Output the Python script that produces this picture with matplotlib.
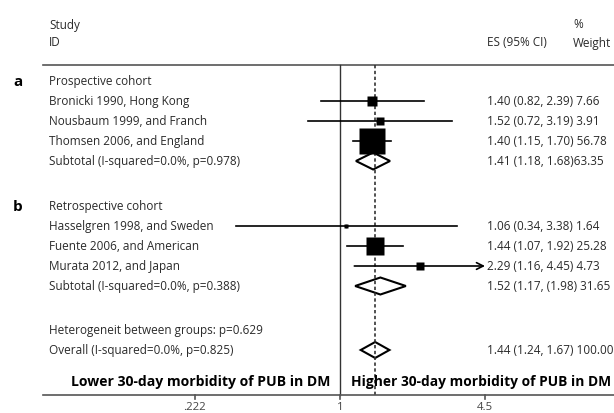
import numpy as np
import matplotlib
matplotlib.use("Agg")
import matplotlib.pyplot as plt
from matplotlib.patches import Polygon

plt.rcParams['font.family'] = ['Open Sans', 'DejaVu Sans']

# data
group_a_labels = ["Bronicki 1990, Hong Kong", "Nousbaum 1999, and Franch", "Thomsen 2006, and England"]
group_a_es = [1.40, 1.52, 1.40]
group_a_lo = [0.82, 0.72, 1.15]
group_a_hi = [2.39, 3.19, 1.70]
group_a_w = [7.66, 3.91, 56.78]
group_a_txt = ["1.40 (0.82, 2.39) 7.66", "1.52 (0.72, 3.19) 3.91", "1.40 (1.15, 1.70) 56.78"]
sub_a = (1.41, 1.18, 1.68)
sub_a_txt = "1.41 (1.18, 1.68)63.35"

group_b_labels = ["Hasselgren 1998, and Sweden", "Fuente 2006, and American", "Murata 2012, and Japan"]
group_b_es = [1.06, 1.44, 2.29]
group_b_lo = [0.34, 1.07, 1.16]
group_b_hi = [3.38, 1.92, 4.45]
group_b_w = [1.64, 25.28, 4.73]
group_b_txt = ["1.06 (0.34, 3.38) 1.64", "1.44 (1.07, 1.92) 25.28", "2.29 (1.16, 4.45) 4.73"]
sub_b = (1.52, 1.17, 1.98)
sub_b_txt = "1.52 (1.17, (1.98) 31.65"

overall = (1.44, 1.24, 1.67)
overall_txt = "1.44 (1.24, 1.67) 100.00"

ticks = [0.222, 1, 4.5]
tick_labels = [".222", "1", "4.5"]

fig = plt.figure(figsize=(6.14, 4.14), dpi=100)
ax = fig.add_axes([0, 0, 1, 1])
ax.set_xscale('log')
# 1 sits at 340 px, 222 px per decade
ax.set_xlim(10 ** (-340 / 222), 10 ** (274 / 222))
ax.set_ylim(414, 0)
ax.axis('off')

tc = '#2a2a2a'
fs = 8.5
xl = 10 ** ((49 - 340) / 222)     # label column
xes = 10 ** ((487 - 340) / 222)   # ES column
xw = 10 ** ((573 - 340) / 222)
xab = 10 ** ((13 - 340) / 222)
x0 = 10 ** ((43 - 340) / 222)
x1 = 10 ** ((614 - 340) / 222)

# headers
ax.text(xl, 25, "Study", fontsize=fs, color=tc, va='center')
ax.text(xl, 43, "ID", fontsize=fs, color=tc, va='center')
ax.text(xes, 43, "ES (95% CI)", fontsize=fs, color=tc, va='center')
ax.text(xw, 25, "%", fontsize=fs, color=tc, va='center')
ax.text(xw, 43, "Weight", fontsize=fs, color=tc, va='center')
ax.plot([x0, x1], [66, 66], color='#555555', lw=1.2)

# reference lines
ax.plot([1, 1], [66, 396], color='#333333', lw=1.0)
ax.plot([overall[0]] * 2, [66, 396], color='#333333', lw=1.2, ls=(0, (2, 1.5)))

side_max = 27 * 0.72  # pt for largest weight


def diamond(vals, y, h=8.5):
    e, l, u = vals
    ax.add_patch(Polygon([[l, y], [e, y - h], [u, y], [e, y + h]], closed=True,
                         fc='white', ec='black', lw=1.5))


def draw_group(y0, letter, title, labels, es, lo, hi, w, txt, sub, subtxt, subname):
    ax.text(xab, y0, letter, fontsize=11, fontweight='bold', color='black', va='center')
    ax.text(xl, y0, title, fontsize=fs, color=tc, va='center')
    for i in range(len(labels)):
        y = y0 + 20 * (i + 1)
        ax.text(xl, y, labels[i], fontsize=fs, color=tc, va='center')
        ax.text(xes, y, txt[i], fontsize=fs, color=tc, va='center')
        if hi[i] > 4.4:
            ax.annotate("", xy=(4.5, y), xytext=(lo[i], y),
                        arrowprops=dict(arrowstyle='->', color='black', lw=1.2,
                                        mutation_scale=12, shrinkA=0, shrinkB=0))
        else:
            ax.plot([lo[i], hi[i]], [y, y], color='black', lw=1.2)
        side = side_max * np.sqrt(w[i] / 56.78)
        ax.plot(es[i], y, marker='s', ms=side, color='black', mec='none')
        ax.plot(es[i], y, marker='o', ms=2.5, color='black', mec='none')
    y = y0 + 20 * (len(labels) + 1)
    ax.text(xl, y, subname, fontsize=fs, color=tc, va='center')
    ax.text(xes, y, subtxt, fontsize=fs, color=tc, va='center')
    diamond(sub, y)


draw_group(82, "a", "Prospective cohort", group_a_labels, group_a_es, group_a_lo, group_a_hi,
           group_a_w, group_a_txt, sub_a, sub_a_txt, "Subtotal (I-squared=0.0%, p=0.978)")
draw_group(207, "b", "Retrospective cohort", group_b_labels, group_b_es, group_b_lo, group_b_hi,
           group_b_w, group_b_txt, sub_b, sub_b_txt, "Subtotal (I-squared=0.0%, p=0.388)")

ax.text(xl, 331, "Heterogeneit between groups: p=0.629", fontsize=fs, color=tc, va='center')
ax.text(xl, 351, "Overall (I-squared=0.0%, p=0.825)", fontsize=fs, color=tc, va='center')
ax.text(xes, 351, overall_txt, fontsize=fs, color=tc, va='center')
diamond(overall, 351, h=8)

# bottom labels
ax.text(10 ** ((330 - 340) / 222), 382, "Lower 30-day morbidity of PUB in DM", fontsize=10.1,
        fontweight='bold', color='black', va='center', ha='right')
ax.text(10 ** ((351 - 340) / 222), 382, "Higher 30-day morbidity of PUB in DM", fontsize=9.9,
        fontweight='bold', color='black', va='center', ha='left')

# x axis
ax.plot([x0, x1], [396, 396], color='#555555', lw=1.2)
for t, lab in zip(ticks, tick_labels):
    ax.plot([t, t], [396, 400], color='#555555', lw=1.2)
    ax.text(t, 408, lab, fontsize=fs - 0.3, color='#444444', va='center', ha='center')

fig.savefig("out.png", dpi=100)
